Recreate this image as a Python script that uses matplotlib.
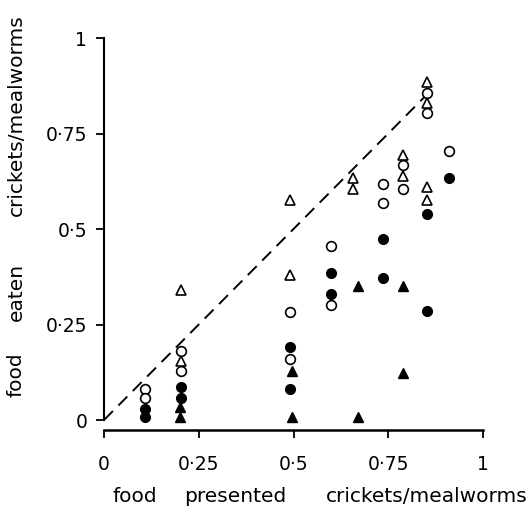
import matplotlib
matplotlib.use('Agg')
import matplotlib.pyplot as plt

# open circles
oc_x = [0.108, 0.108, 0.204, 0.204, 0.492, 0.492, 0.60, 0.60, 0.735, 0.735,
        0.79, 0.79, 0.853, 0.853, 0.91]
oc_y = [0.081, 0.057, 0.180, 0.128, 0.283, 0.160, 0.455, 0.300, 0.618, 0.568,
        0.667, 0.605, 0.856, 0.804, 0.704]

# filled circles
fc_x = [0.108, 0.108, 0.204, 0.204, 0.492, 0.492, 0.60, 0.60, 0.735, 0.735,
        0.853, 0.853, 0.91]
fc_y = [0.030, 0.008, 0.086, 0.057, 0.190, 0.080, 0.385, 0.330, 0.474, 0.372,
        0.539, 0.285, 0.634]

# open triangles
ot_x = [0.204, 0.204, 0.49, 0.49, 0.656, 0.656, 0.79, 0.79, 0.853, 0.853,
        0.853, 0.853]
ot_y = [0.340, 0.154, 0.576, 0.380, 0.634, 0.605, 0.694, 0.639, 0.610, 0.576,
        0.885, 0.830]

# filled triangles
ft_x = [0.20, 0.20, 0.496, 0.496, 0.669, 0.669, 0.79, 0.79]
ft_y = [0.034, 0.008, 0.127, 0.008, 0.350, 0.008, 0.350, 0.123]

ticks = [0, 0.25, 0.5, 0.75, 1]
tick_labels = ['0', '0\u00b725', '0\u00b75', '0\u00b775', '1']

xlabel_words = ['food', 'presented', 'crickets/mealworms']
ylabel_words = ['food', 'eaten', 'crickets/mealworms']

fig = plt.figure(figsize=(5.30, 5.11), dpi=100)
ax = fig.add_axes([104 / 530, 91 / 511, 379 / 530, 382 / 511])

ax.plot([0, 0.872], [0, 0.872], color='black', lw=1.4, dashes=(6.5, 4))

ms = 7
ax.plot(oc_x, oc_y, 'o', ms=ms, mfc='white', mec='black', mew=1.2, clip_on=False)
ax.plot(fc_x, fc_y, 'o', ms=ms, mfc='black', mec='black', clip_on=False)
ax.plot(ot_x, ot_y, '^', ms=ms, mfc='white', mec='black', mew=1.2, clip_on=False)
ax.plot(ft_x, ft_y, '^', ms=ms, mfc='black', mec='black', clip_on=False)

ax.set_xlim(0, 1)
ax.set_ylim(0, 1)
ax.spines['top'].set_visible(False)
ax.spines['right'].set_visible(False)
ax.spines['bottom'].set_position(('outward', 7))
ax.spines['left'].set_linewidth(1.5)
ax.spines['bottom'].set_linewidth(1.8)

ax.set_xticks(ticks)
ax.set_xticklabels(tick_labels)
ax.set_yticks(ticks)
ax.set_yticklabels(tick_labels)
ax.tick_params(axis='both', labelsize=13.5, length=6, width=1.3, direction='out')
ax.tick_params(axis='x', pad=12)
ax.tick_params(axis='y', pad=6)

# axis titles drawn word by word, spaced as in the original
for word, xc in zip(xlabel_words, [135, 235, 427]):
    fig.text(xc / 530, 1 - 496 / 511, word, ha='center', va='center', fontsize=14.5)
for word, yc in zip(ylabel_words, [375, 292, 115]):
    fig.text(16 / 530, 1 - yc / 511, word, ha='center', va='center',
             rotation=90, fontsize=14.5)

fig.savefig('out.png', dpi=100)
